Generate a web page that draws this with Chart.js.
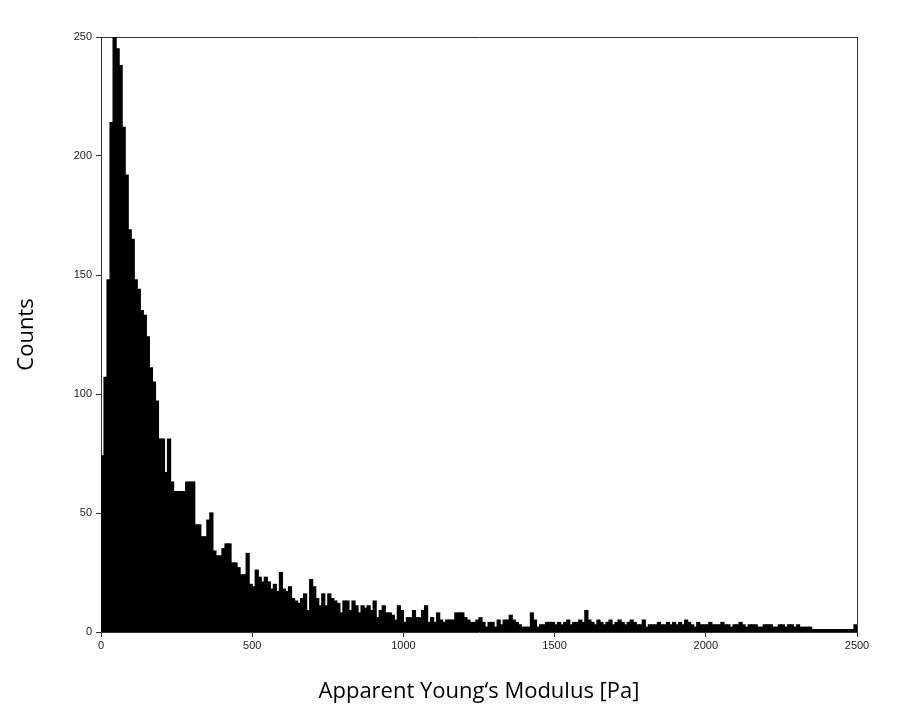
<!DOCTYPE html>
<html>
<head>
<meta charset="utf-8">
<script src="https://cdn.jsdelivr.net/npm/chart.js@4"></script>
<style>
  html, body { margin: 0; padding: 0; background: #fff; }
  #wrap { width: 900px; height: 709px; }
</style>
</head>
<body>
<div id="wrap"><canvas id="c"></canvas></div>
<script>
// histogram of apparent Young's modulus, 10 Pa bins from 0 to 2500
var binWidth = 10;
var countsLow = [
  74, 107, 148, 214, 250, 245, 238, 212, 192, 169,
  165, 148, 144, 135, 133, 124, 111, 105, 97, 81,
  81, 67, 81, 63, 59, 59, 59, 59, 63, 63,
  63, 45, 45, 40, 40, 47, 50, 34, 32, 32,
  35, 37, 37, 29, 29, 27, 24, 24, 33, 20,
  19, 26, 23, 21, 23, 21, 18, 20, 17, 25
];
var countsMid = [
  18, 17, 19, 14, 13, 12, 14, 16, 9, 22,
  19, 14, 11, 16, 11, 16, 14, 13, 12, 8,
  13, 13, 9, 13, 11, 8, 11, 10, 11, 9,
  13, 6, 9, 11, 8, 8, 7, 5, 11, 9,
  4, 6, 6, 9, 6, 6, 9, 11, 4, 6,
  4, 8, 5, 4, 5, 5, 5, 8, 8, 8,
  6, 5, 4, 4, 5, 6, 4, 2, 4, 4,
  2, 5, 3, 5, 5, 7, 5, 4, 3, 2,
  2, 2, 8, 5, 2, 3, 3, 4, 4, 4
];
var countsHigh = [
  3, 4, 3, 4, 5, 3, 4, 4, 5, 4,
  9, 5, 4, 3, 5, 4, 3, 4, 5, 3,
  4, 5, 4, 3, 4, 5, 4, 3, 3, 5,
  2, 3, 3, 3, 4, 3, 3, 4, 3, 4,
  3, 4, 3, 5, 4, 3, 2, 4, 3, 3,
  3, 4, 3, 3, 3, 4, 3, 3, 2, 3,
  3, 4, 3, 2, 3, 3, 3, 2, 2, 3,
  3, 3, 2, 2, 3, 3, 2, 3, 3, 2,
  3, 2, 2, 2, 2, 1, 1, 1, 1, 1,
  1, 1, 1, 1, 1, 1, 1, 1, 1, 3
];
var xTicks = [0, 500, 1000, 1500, 2000, 2500];
var yTicks = [0, 50, 100, 150, 200, 250];

var counts = countsLow.concat(countsMid, countsHigh);
var points = counts.map(function (v, i) { return { x: i * binWidth + binWidth / 2, y: v }; });

var tickFont = { family: 'Liberation Sans', size: 11 };
var titleFont = { family: 'Open Sans', size: 22 };
var plain = function (v) { return String(v); };

new Chart(document.getElementById('c'), {
  type: 'bar',
  data: {
    datasets: [{
      data: points,
      backgroundColor: '#000',
      borderColor: '#000',
      borderWidth: 0,
      inflateAmount: 0.6,
      barPercentage: 1,
      categoryPercentage: 1,
      xAxisID: 'x',
      yAxisID: 'y'
    }]
  },
  options: {
    responsive: true,
    maintainAspectRatio: false,
    animation: false,
    layout: { padding: 0 },
    plugins: { legend: { display: false }, tooltip: { enabled: false } },
    scales: {
      x: {
        type: 'linear', min: 0, max: 2500, position: 'bottom', offset: false,
        afterBuildTicks: function (s) { s.ticks = xTicks.map(function (v) { return { value: v }; }); },
        afterFit: function (s) { s.height = 77; },
        ticks: { color: '#222', font: tickFont, padding: 2, maxRotation: 0, callback: plain },
        grid: { display: true, drawOnChartArea: false, offset: false, tickLength: 5, color: '#333' },
        border: { color: '#333', width: 1 },
        title: { display: true, text: 'Apparent Young\u2018s Modulus [Pa]', color: '#000', font: titleFont, padding: { top: 0 } }
      },
      x2: {
        type: 'linear', min: 0, max: 2500, position: 'top', offset: false,
        afterFit: function (s) { s.height = 37; },
        ticks: { display: false },
        grid: { display: false },
        border: { color: '#333', width: 1 }
      },
      y: {
        type: 'linear', min: 0, max: 250, position: 'left',
        afterBuildTicks: function (s) { s.ticks = yTicks.map(function (v) { return { value: v }; }); },
        afterFit: function (s) { s.width = 101; },
        ticks: { color: '#222', font: tickFont, padding: 4, callback: plain },
        grid: { display: true, drawOnChartArea: false, tickLength: 5, color: '#333' },
        border: { color: '#333', width: 1 },
        title: { display: true, text: 'Counts', color: '#000', font: titleFont, padding: { top: 14, bottom: 10 } }
      },
      y2: {
        type: 'linear', min: 0, max: 250, position: 'right',
        afterFit: function (s) { s.width = 43; },
        ticks: { display: false },
        grid: { display: false },
        border: { color: '#333', width: 1 }
      }
    }
  }
});
</script>
</body>
</html>
